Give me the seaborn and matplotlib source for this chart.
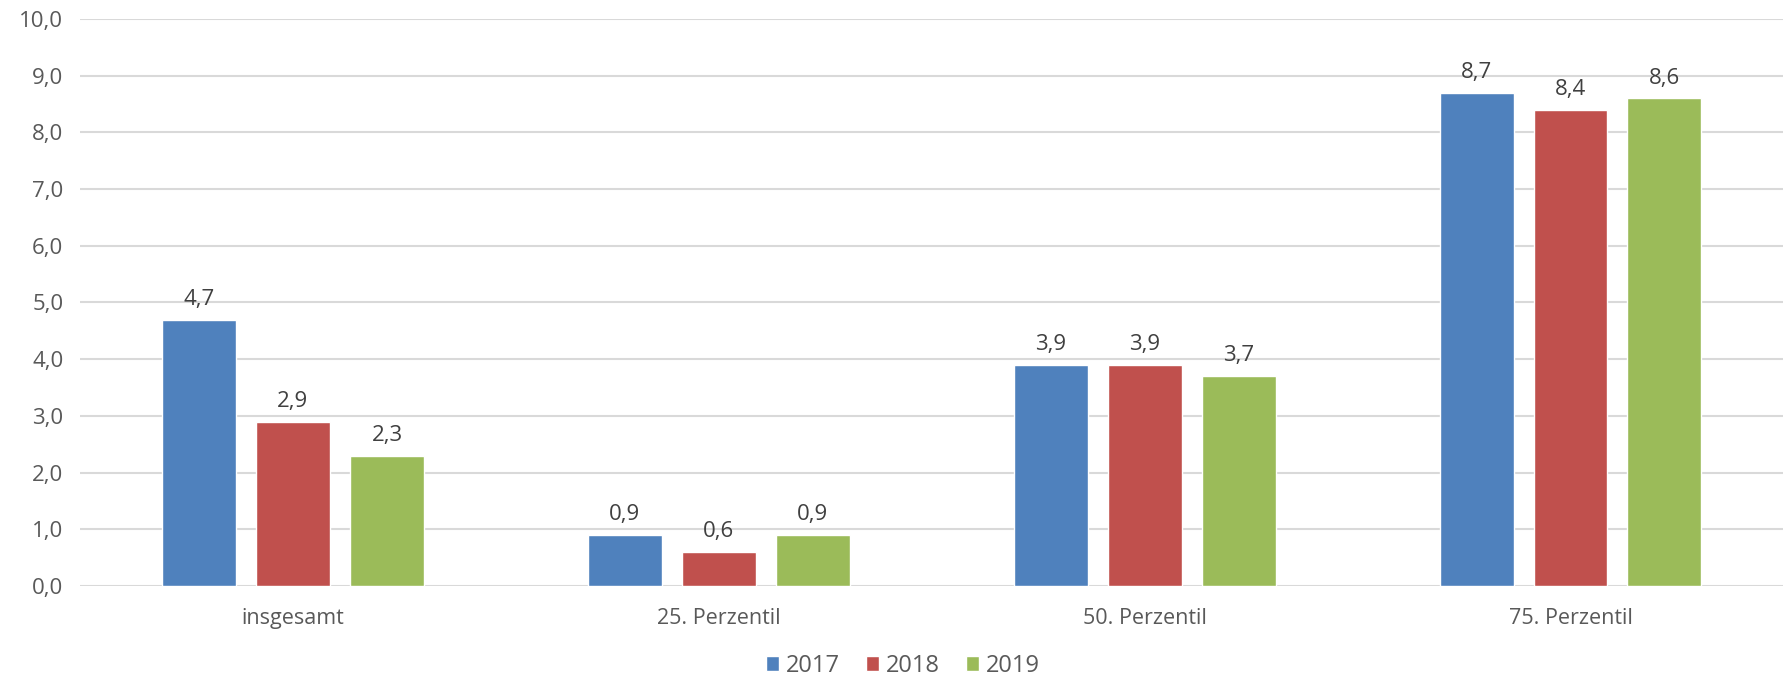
import pandas as pd
import matplotlib
matplotlib.use("Agg")
import matplotlib.pyplot as plt
import seaborn as sns

# ========== Data ==========
categories = ["insgesamt", "25. Perzentil", "50. Perzentil", "75. Perzentil"]
years = ["2017", "2018", "2019"]
values_2017 = [4.7, 0.9, 3.9, 8.7]
values_2018 = [2.9, 0.6, 3.9, 8.4]
values_2019 = [2.3, 0.9, 3.7, 8.6]

colors = ["#4F81BD", "#C0504D", "#9BBB59"]
text_color = "#595959"

df = pd.DataFrame({
    "category": categories * 3,
    "year": [y for y in years for _ in categories],
    "value": values_2017 + values_2018 + values_2019,
})

# ========== Plot ==========
sns.set_style("white")
plt.rcParams["font.family"] = ["Open Sans", "DejaVu Sans"]

fig = plt.figure(figsize=(17.87, 6.78), dpi=100)
ax = fig.add_axes([0.0448, 0.1357, 0.9532, 0.8363])

sns.barplot(data=df, x="category", y="value", hue="year", order=categories,
            hue_order=years, palette=colors, width=0.662, gap=0.213,
            saturation=1, errorbar=None, ax=ax, zorder=3)

for cont in ax.containers:
    ax.bar_label(cont, labels=[f"{v:.1f}".replace(".", ",") for v in cont.datavalues],
                 padding=7, fontsize=16, color="#404040")

ax.set_ylim(0, 10)
ax.set_yticks(range(0, 11))
ax.set_yticklabels([f"{t:.1f}".replace(".", ",") for t in range(0, 11)])
ax.set_xlim(-0.5, 3.5)
ax.yaxis.grid(True, color="#D9D9D9", linewidth=1.5, zorder=0)
ax.set_axisbelow(True)
for s in ax.spines.values():
    s.set_visible(False)
ax.tick_params(axis="both", length=0, labelsize=15.5, colors=text_color)
ax.tick_params(axis="y", pad=12, labelsize=16)
ax.tick_params(axis="x", pad=16)
ax.set_xlabel("")
ax.set_ylabel("")

leg = ax.legend(loc="center", bbox_to_anchor=(0.483, -0.141), ncol=3, frameon=False,
                fontsize=17, handlelength=0.55, handleheight=0.55, handletextpad=0.3,
                columnspacing=1.1, labelcolor=text_color)

fig.savefig("out.png", dpi=100)
